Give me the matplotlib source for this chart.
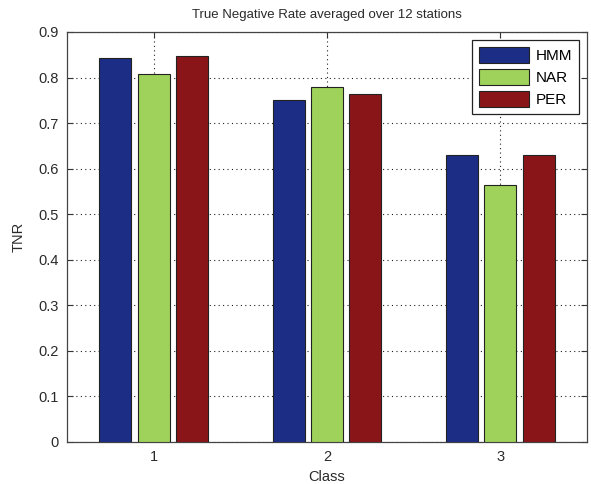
"""
Figure: true negative rate per class, averaged over stations
"""
import matplotlib.pyplot as plt
import numpy as np

# --------------------------------------------------------------------------------
# data
# --------------------------------------------------------------------------------
CLASSES = [1, 2, 3]
TNR_HMM = [0.842, 0.750, 0.631]
TNR_NAR = [0.808, 0.779, 0.565]
TNR_PER = [0.848, 0.763, 0.631]
SERIES_NAMES = ["HMM", "NAR", "PER"]
Y_TICKS = [0, 0.1, 0.2, 0.3, 0.4, 0.5, 0.6, 0.7, 0.8, 0.9]

# plot
COLOR_LIST = ["#1c2d86", "#9fd25a", "#8a1519"]
BAR_WIDTH = 0.184
BAR_STEP = 0.221
PLOT_DPI = 100

plt.rcParams['font.family'] = ['Liberation Sans', 'DejaVu Sans']


def draw_tnr():
    fig = plt.figure(figsize=(5.91, 4.84), dpi=PLOT_DPI, facecolor='w')
    ax = fig.add_axes([0.1134, 0.0868, 0.880, 0.8471])

    x = np.array(CLASSES, dtype=float)
    series = [TNR_HMM, TNR_NAR, TNR_PER]
    for i, values in enumerate(series):
        ax.bar(x + (i - 1) * BAR_STEP, values, width=BAR_WIDTH, color=COLOR_LIST[i],
               edgecolor="#222222", linewidth=0.8, label=SERIES_NAMES[i], zorder=3)

    # axes like matlab: box, ticks inside on all sides, dotted grid
    ax.set_xlim(0.5, 3.5)
    ax.set_ylim(0, 0.9)
    ax.set_xticks(CLASSES)
    ax.set_yticks(Y_TICKS)
    ax.set_yticklabels([("%g" % v) for v in Y_TICKS])
    ax.tick_params(axis="both", direction="in", which="major", labelsize=10.5,
                   top=True, right=True, length=4, width=0.8, color="#333333",
                   labelcolor="#2a2a2a", pad=6)
    ax.grid(color="#222222", linestyle=(0, (1, 3)), linewidth=0.8, zorder=1)
    ax.set_axisbelow(True)
    for sp in ax.spines.values():
        sp.set_color("#444444")
        sp.set_linewidth(0.9)

    ax.set_xlabel("Class", fontsize=10.5, color="#2a2a2a", labelpad=4)
    ax.set_ylabel("TNR", fontsize=10.5, color="#2a2a2a", labelpad=9)
    ax.set_title("True Negative Rate averaged over 12 stations", fontsize=9.5,
                 color="#2a2a2a", pad=10)

    leg = ax.legend(loc="upper right", fontsize=11, handlelength=3.3, handleheight=1.25,
                    handletextpad=0.45, labelspacing=0.4, borderpad=0.45,
                    fancybox=False, framealpha=1, borderaxespad=0.5)
    leg.get_frame().set_edgecolor("#222222")
    leg.get_frame().set_linewidth(0.9)

    plt.savefig("out.png", dpi=PLOT_DPI, facecolor='w')
    plt.close()


if __name__ == '__main__':
    draw_tnr()
